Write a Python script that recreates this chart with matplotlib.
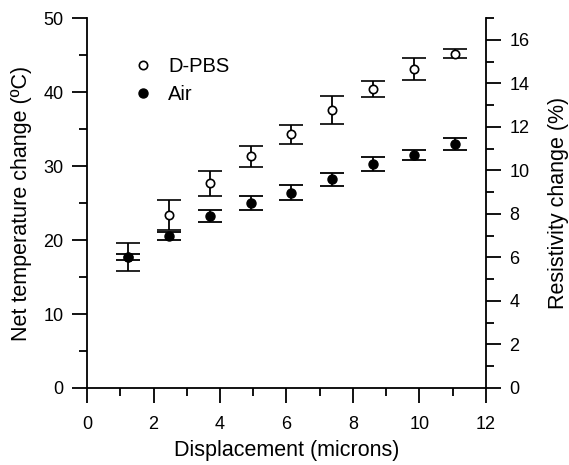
import matplotlib
matplotlib.use('Agg')
import matplotlib.pyplot as plt
from matplotlib.ticker import MultipleLocator

plt.rcParams['font.family'] = ['Liberation Sans', 'DejaVu Sans']

# data
displacement = [1.23, 2.46, 3.69, 4.92, 6.15, 7.38, 8.61, 9.84, 11.07]
dpbs = [17.7, 23.4, 27.7, 31.3, 34.3, 37.6, 40.4, 43.1, 45.2]
dpbs_err = [1.85, 2.0, 1.7, 1.4, 1.3, 1.85, 1.1, 1.5, 0.6]
air = [17.7, 20.5, 23.2, 25.0, 26.4, 28.2, 30.3, 31.5, 33.0]
air_err = [0.35, 0.55, 0.8, 0.95, 1.0, 0.85, 0.9, 0.7, 0.8]

fig = plt.figure(figsize=(5.69, 4.65), dpi=100)
ax = fig.add_axes([0.153, 0.1656, 0.701, 0.7954])

ax.errorbar(displacement, dpbs, yerr=dpbs_err, fmt='o', mfc='white', mec='black',
            mew=1.2, ms=6, ecolor='black', elinewidth=1.3, capsize=8.5, capthick=1.3,
            color='black', label='D-PBS')
ax.errorbar(displacement, air, yerr=air_err, fmt='o', mfc='black', mec='black',
            ms=6.5, ecolor='black', elinewidth=1.3, capsize=8.5, capthick=1.3,
            color='black', label='Air')

ax.set_xlim(0, 12)
ax.set_ylim(0, 50)
ax.xaxis.set_major_locator(MultipleLocator(2))
ax.xaxis.set_minor_locator(MultipleLocator(1))
ax.yaxis.set_major_locator(MultipleLocator(10))
ax.yaxis.set_minor_locator(MultipleLocator(5))
ax.tick_params(which='major', direction='out', length=11, width=1.3, labelsize=13)
ax.tick_params(which='minor', direction='out', length=6, width=1.3)
ax.tick_params(axis='x', which='major', pad=9)
ax.tick_params(axis='y', which='major', pad=6)
ax.spines['top'].set_visible(False)
ax.spines['right'].set_visible(False)
for s in ['left', 'bottom']:
    ax.spines[s].set_linewidth(1.3)

ax.set_xlabel('Displacement (microns)', fontsize=15.5, labelpad=5)
ax.set_ylabel('Net temperature change (ºC)', fontsize=15.5, labelpad=8)

# secondary axis for resistivity
ax2 = ax.twinx()
ax2.set_ylim(0, 17)
ax2.yaxis.set_major_locator(MultipleLocator(2))
ax2.yaxis.set_minor_locator(MultipleLocator(1))
ax2.tick_params(which='major', direction='out', length=11, width=1.3, labelsize=13, pad=6)
ax2.tick_params(which='minor', direction='out', length=6, width=1.3)
ax2.spines['top'].set_visible(False)
ax2.spines['left'].set_visible(False)
ax2.spines['bottom'].set_visible(False)
ax2.spines['right'].set_linewidth(1.3)
ax2.set_ylabel('Resistivity change (%)', fontsize=15.5, labelpad=13)

handles, labels = ax.get_legend_handles_labels()
handles = [h[0] for h in handles]
ax.legend(handles, labels, loc='upper left', bbox_to_anchor=(0.07, 0.945), frameon=False,
          fontsize=14.5, handletextpad=0.75, labelspacing=0.45, handlelength=1.0)

plt.savefig('out.png', dpi=100)
